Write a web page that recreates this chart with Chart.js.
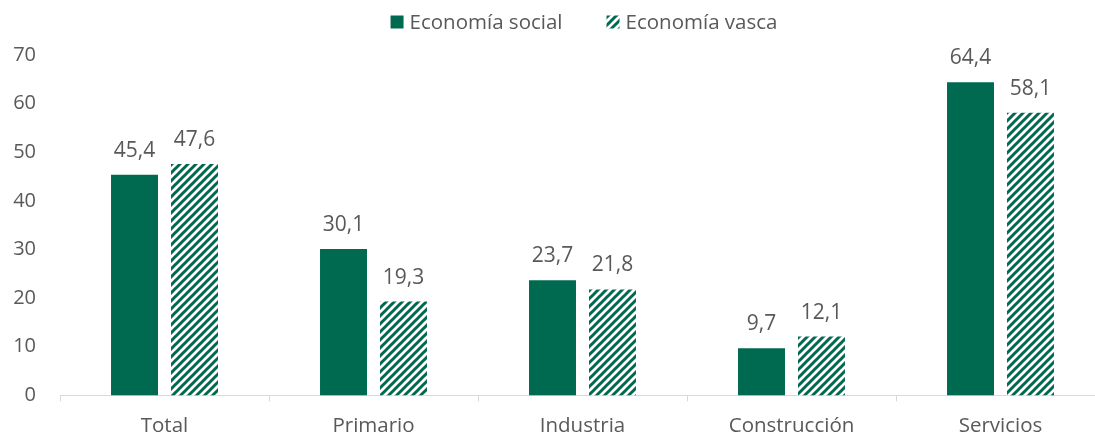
<!DOCTYPE html>
<html>
<head>
<meta charset="utf-8">
<script src="https://cdn.jsdelivr.net/npm/chart.js@4"></script>
<style>
  html, body { margin: 0; padding: 0; background: #fff; overflow: hidden; }
  #wrap { width: 1105px; height: 434px; }
</style>
</head>
<body>
<div id="wrap"><canvas id="chart" width="1105" height="434"></canvas></div>
<script>
var categories = ['Total', 'Primario', 'Industria', 'Construcción', 'Servicios'];
var economiaSocial = [45.4, 30.1, 23.7, 9.7, 64.4];
var economiaVasca = [47.6, 19.3, 21.8, 12.1, 58.1];
var yTicks = [0, 10, 20, 30, 40, 50, 60, 70];

var green = '#006a50';
var textColor = '#595959';
var fontFamily = '"Open Sans", "Noto Sans", sans-serif';

// rayas diagonales para la serie vasca
function makeStripes() {
    var s = 8;
    var c = document.createElement('canvas');
    c.width = s; c.height = s;
    var g = c.getContext('2d');
    g.fillStyle = '#fff';
    g.fillRect(0, 0, s, s);
    g.strokeStyle = green;
    g.lineWidth = 3;
    g.beginPath();
    g.moveTo(-2, s + 2); g.lineTo(s + 2, -2);
    g.moveTo(-2, 2); g.lineTo(2, -2);
    g.moveTo(s - 2, s + 2); g.lineTo(s + 2, s - 2);
    g.stroke();
    return g.createPattern(c, 'repeat');
}
var stripes = makeStripes();

// etiquetas de valor encima de cada barra
var valueLabels = {
    id: 'valueLabels',
    afterDatasetsDraw: function (chart) {
        var ctx = chart.ctx;
        ctx.save();
        ctx.font = '21px ' + fontFamily;
        ctx.fillStyle = textColor;
        ctx.textAlign = 'center';
        ctx.textBaseline = 'alphabetic';
        chart.data.datasets.forEach(function (ds, di) {
            var meta = chart.getDatasetMeta(di);
            meta.data.forEach(function (el, k) {
                var txt = ds.data[k].toFixed(1).replace('.', ',');
                ctx.fillText(txt, el.x, el.y - 18);
            });
        });
        ctx.restore();
    }
};

// leyenda arriba, centrada
var topLegend = {
    id: 'topLegend',
    afterDraw: function (chart) {
        var ctx = chart.ctx;
        var box = 13, gapText = 6, gapItem = 44, cy = 22;
        ctx.save();
        ctx.font = '20.5px ' + fontFamily;
        ctx.textBaseline = 'middle';
        var items = chart.data.datasets.map(function (ds) {
            return { label: ds.label, fill: ds.backgroundColor, w: box + gapText + ctx.measureText(ds.label).width };
        });
        var total = items.reduce(function (a, it) { return a + it.w; }, 0) + gapItem * (items.length - 1);
        var x = (389 + 779) / 2 - total / 2;
        items.forEach(function (it) {
            ctx.fillStyle = it.fill;
            ctx.fillRect(x, cy - box / 2, box, box);
            ctx.fillStyle = textColor;
            ctx.fillText(it.label, x + box + gapText, cy + 1);
            x += it.w + gapItem;
        });
        ctx.restore();
    }
};

var ctx = document.getElementById('chart').getContext('2d');
var chart = new Chart(ctx, {
    type: 'bar',
    data: {
        labels: categories,
        datasets: [{
            label: 'Economía social',
            data: economiaSocial,
            backgroundColor: green,
            borderWidth: 0
        }, {
            label: 'Economía vasca',
            data: economiaVasca,
            backgroundColor: stripes,
            borderWidth: 0
        }]
    },
    options: {
        responsive: false,
        animation: false,
        devicePixelRatio: 1,
        layout: { padding: { top: 55, right: 0, left: 0, bottom: -16 } },
        datasets: {
            bar: { categoryPercentage: 0.574, barPercentage: 0.783 }
        },
        plugins: {
            tooltip: { enabled: false },
            legend: { display: false }
        },
        scales: {
            x: {
                grid: {
                    offset: true,
                    drawOnChartArea: false,
                    drawTicks: true,
                    tickLength: 6,
                    color: '#d9d9d9'
                },
                border: { color: '#d9d9d9', width: 1 },
                ticks: {
                    color: textColor,
                    padding: 12,
                    font: { family: fontFamily, size: 20.5 }
                }
            },
            y: {
                min: 0,
                max: 70,
                afterFit: function (scale) { scale.width = 60; },
                afterBuildTicks: function (scale) {
                    scale.ticks = yTicks.map(function (v) { return { value: v }; });
                },
                grid: { display: false },
                border: { display: false },
                ticks: {
                    color: textColor,
                    padding: 16,
                    font: { family: fontFamily, size: 20 }
                }
            }
        }
    },
    plugins: [valueLabels, topLegend]
});
</script>
</body>
</html>
